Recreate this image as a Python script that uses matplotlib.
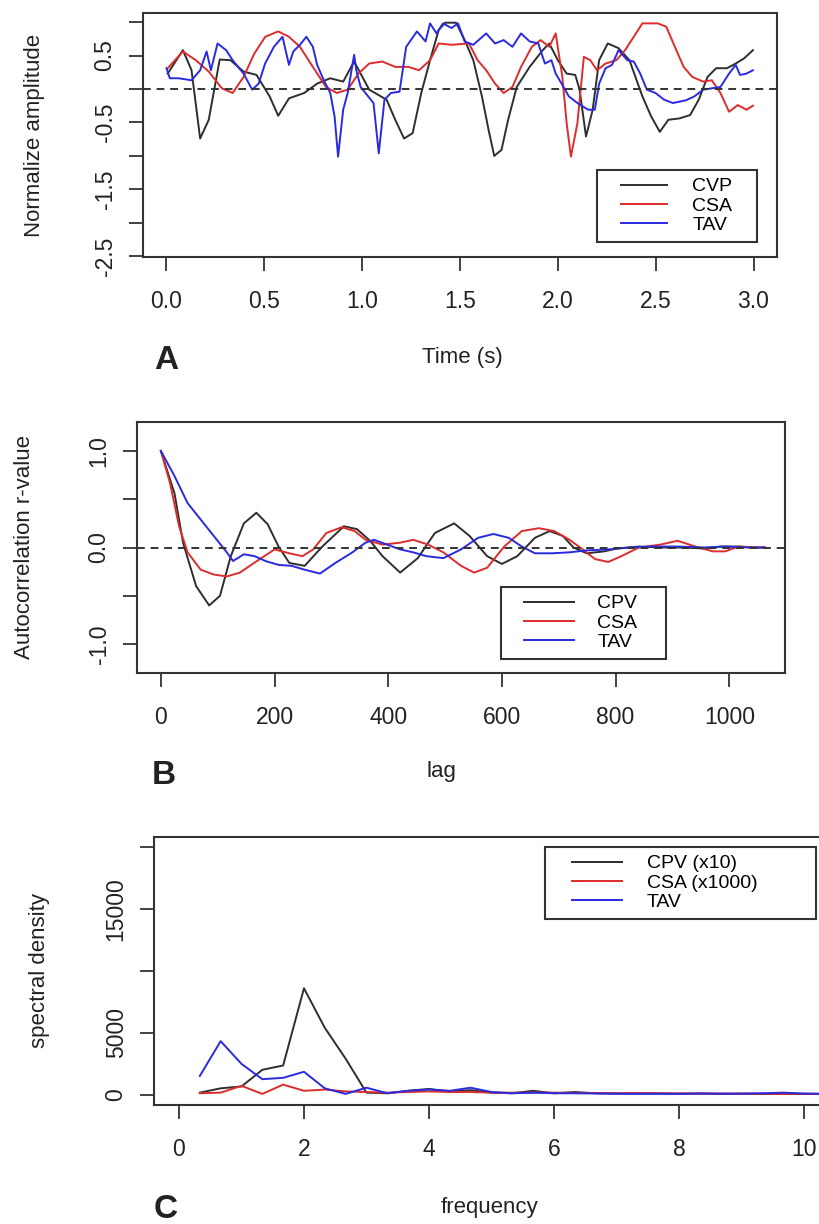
import numpy as np
import matplotlib.pyplot as plt
from matplotlib.lines import Line2D
from matplotlib.legend_handler import HandlerLine2D

plt.rcParams['font.family'] = ['Liberation Sans', 'DejaVu Sans']

# ---- panel A: normalized amplitude vs time ----
cvp_t = [0.006, 0.084, 0.128, 0.172, 0.216, 0.272, 0.327, 0.394, 0.460, 0.527, 0.571, 0.626, 0.704, 0.770,
         0.837, 0.903, 0.959, 1.036, 1.125, 1.169, 1.214, 1.258, 1.302, 1.347, 1.391, 1.424, 1.480, 1.524,
         1.568, 1.612, 1.646, 1.675, 1.712, 1.746, 1.790, 1.856, 1.923, 1.956, 2.000, 2.045, 2.089, 2.111,
         2.144, 2.178, 2.211, 2.255, 2.310, 2.366, 2.432, 2.477, 2.521, 2.565, 2.621, 2.676, 2.720, 2.765,
         2.809, 2.864, 2.909, 2.953, 2.997]
cvp_v = [0.23, 0.58, 0.28, -0.74, -0.46, 0.44, 0.43, 0.26, 0.21, -0.11, -0.40, -0.14, -0.06, 0.08,
         0.16, 0.11, 0.41, -0.01, -0.16, -0.46, -0.74, -0.66, -0.06, 0.43, 0.88, 0.99, 0.99, 0.73,
         0.43, -0.11, -0.61, -1.00, -0.91, -0.46, 0.03, 0.33, 0.58, 0.68, 0.43, 0.23, 0.21, -0.01,
         -0.71, -0.31, 0.43, 0.68, 0.61, 0.43, -0.11, -0.41, -0.64, -0.46, -0.44, -0.39, -0.16, 0.18,
         0.31, 0.31, 0.38, 0.46, 0.58]

csa_t = [0.006, 0.084, 0.150, 0.216, 0.283, 0.338, 0.394, 0.449, 0.505, 0.571, 0.626, 0.682, 0.748, 0.815,
         0.870, 0.926, 0.981, 1.036, 1.103, 1.169, 1.236, 1.291, 1.347, 1.391, 1.457, 1.546, 1.590, 1.634,
         1.679, 1.723, 1.768, 1.812, 1.867, 1.912, 1.956, 1.989, 2.023, 2.045, 2.067, 2.100, 2.133, 2.166,
         2.200, 2.244, 2.299, 2.344, 2.388, 2.432, 2.510, 2.554, 2.598, 2.643, 2.687, 2.743, 2.787, 2.831,
         2.875, 2.920, 2.964, 2.997]
csa_v = [0.31, 0.56, 0.43, 0.26, 0.01, -0.06, 0.18, 0.53, 0.78, 0.86, 0.78, 0.63, 0.33, 0.03,
         -0.06, -0.01, 0.23, 0.38, 0.41, 0.33, 0.33, 0.28, 0.43, 0.68, 0.66, 0.68, 0.43, 0.28,
         0.08, -0.06, 0.03, 0.33, 0.63, 0.73, 0.63, 0.83, 0.18, -0.51, -1.01, -0.51, 0.48, 0.43,
         0.28, 0.38, 0.43, 0.58, 0.78, 0.98, 0.98, 0.93, 0.63, 0.33, 0.18, 0.11, 0.13, -0.06,
         -0.34, -0.24, -0.31, -0.25]

tav_t = [0.000, 0.017, 0.062, 0.128, 0.172, 0.205, 0.227, 0.261, 0.305, 0.338, 0.394, 0.438, 0.471, 0.504,
         0.549, 0.593, 0.626, 0.648, 0.682, 0.715, 0.748, 0.770, 0.804, 0.837, 0.859, 0.877, 0.903, 0.926,
         0.959, 0.970, 0.992, 1.025, 1.058, 1.085, 1.114, 1.147, 1.191, 1.225, 1.280, 1.324, 1.347, 1.380,
         1.413, 1.457, 1.490, 1.524, 1.568, 1.634, 1.679, 1.723, 1.768, 1.812, 1.856, 1.900, 1.934, 1.967,
         1.989, 2.023, 2.056, 2.100, 2.155, 2.189, 2.211, 2.244, 2.277, 2.310, 2.355, 2.388, 2.421, 2.455,
         2.499, 2.543, 2.588, 2.654, 2.698, 2.743, 2.787, 2.831, 2.875, 2.909, 2.931, 2.964, 2.997]
tav_v = [0.31, 0.16, 0.16, 0.13, 0.28, 0.56, 0.28, 0.68, 0.58, 0.43, 0.23, -0.01, 0.08, 0.38,
         0.63, 0.78, 0.36, 0.56, 0.66, 0.78, 0.63, 0.36, 0.13, -0.06, -0.41, -1.01, -0.31, -0.06,
         0.51, 0.28, 0.03, -0.09, -0.21, -0.96, -0.16, -0.06, -0.04, 0.63, 0.86, 0.71, 0.98, 0.83,
         0.98, 0.91, 0.98, 0.71, 0.66, 0.83, 0.68, 0.73, 0.63, 0.83, 0.71, 0.68, 0.38, 0.43,
         0.23, 0.06, -0.11, -0.21, -0.31, -0.31, 0.08, 0.31, 0.36, 0.58, 0.43, 0.41, 0.23, -0.01,
         -0.06, -0.16, -0.21, -0.17, -0.11, -0.01, 0.01, 0.03, 0.23, 0.36, 0.21, 0.23, 0.28]

# ---- panel B: autocorrelation ----
cpv_lag = [0, 24, 39, 62, 85, 104, 123, 146, 168, 188, 207, 226, 253, 284, 322, 345, 368, 390, 421, 452,
           482, 516, 543, 574, 600, 627, 658, 684, 707, 726, 749, 780, 803, 841, 879, 917, 955, 986, 1016,
           1047, 1062]
cpv_r = [1.0, 0.56, 0.05, -0.40, -0.60, -0.50, -0.09, 0.25, 0.36, 0.24, 0.01, -0.16, -0.19, 0.01, 0.22,
         0.19, 0.07, -0.09, -0.26, -0.11, 0.15, 0.25, 0.12, -0.09, -0.17, -0.09, 0.10, 0.17, 0.12, 0.0,
         -0.06, -0.04, -0.01, 0.01, 0.0, 0.0, -0.01, 0.01, 0.01, 0.0, 0.0]
csa_lag = [0, 16, 32, 47, 70, 93, 116, 139, 169, 200, 226, 249, 268, 291, 318, 341, 360, 390, 421, 444,
           470, 497, 528, 551, 574, 604, 635, 665, 692, 719, 742, 764, 787, 810, 841, 879, 909, 940, 971,
           993, 1016, 1047, 1062]
csa_r = [1.0, 0.67, 0.22, -0.05, -0.23, -0.28, -0.30, -0.26, -0.14, -0.02, -0.06, -0.09, -0.02, 0.15,
         0.21, 0.17, 0.08, 0.03, 0.05, 0.08, 0.03, -0.05, -0.19, -0.26, -0.21, 0.01, 0.17, 0.20, 0.17,
         0.08, -0.02, -0.12, -0.15, -0.09, 0.0, 0.03, 0.07, 0.01, -0.04, -0.04, 0.01, 0.0, 0.0]
tav_lag = [0, 24, 47, 70, 93, 116, 127, 146, 165, 184, 207, 230, 253, 280, 307, 337, 360, 375, 398, 421,
           444, 467, 497, 528, 558, 585, 612, 635, 658, 688, 719, 749, 787, 825, 864, 909, 955, 993, 1031,
           1062]
tav_r = [1.0, 0.74, 0.46, 0.29, 0.12, -0.05, -0.14, -0.07, -0.09, -0.14, -0.18, -0.19, -0.23, -0.27,
         -0.16, -0.05, 0.05, 0.08, 0.03, -0.02, -0.05, -0.09, -0.11, -0.02, 0.10, 0.14, 0.10, 0.01, -0.06,
         -0.06, -0.05, -0.03, -0.02, 0.0, 0.01, 0.01, 0.0, 0.01, 0.0, 0.0]

# ---- panel C: spectral density ----
freq = np.arange(1, 32) / 3.0
cpv_sd = [150, 500, 650, 2000, 2350, 8600, 5400, 2900, 150, 100, 300, 450, 250, 350, 150, 100, 300, 100,
          200, 100, 80, 100, 80, 60, 80, 50, 60, 40, 50, 40, 30]
csa_sd = [100, 150, 700, 50, 800, 300, 400, 250, 200, 150, 200, 250, 200, 200, 150, 150, 150, 150, 120,
          120, 100, 100, 100, 90, 80, 80, 70, 70, 60, 60, 50]
tav_sd = [1500, 4320, 2480, 1240, 1350, 1840, 500, 50, 550, 100, 300, 400, 300, 550, 200, 100, 150, 100,
          100, 80, 60, 50, 60, 50, 80, 60, 70, 100, 150, 80, 60]

BLK = '#2e2e2e'
RED = '#dd2c2c'
BLU = '#2a2ae0'
W, H = 820, 1224

fig = plt.figure(figsize=(8.2, 12.24), dpi=100)


def px_axes(l, t, r, b):
    return fig.add_axes([l / W, 1 - b / H, (r - l) / W, (b - t) / H])


def r_style(ax):
    for s in ax.spines.values():
        s.set_linewidth(1.5)
        s.set_color('#333333')
    ax.tick_params(direction='out', length=10, width=1.3, color='#333333',
                   labelsize=16.5, labelcolor='#222222')
    ax.tick_params(axis='x', pad=14)
    ax.tick_params(axis='y', pad=9, labelrotation=90)
    for lab in ax.get_yticklabels():
        lab.set_va('center')


def r_legend(ax, labels, l, t, r, handlelen, xpad, textpad):
    handles = [Line2D([], [], color=c, lw=1.4) for c in (BLK, RED, BLU)]
    leg = ax.legend(handles, labels, loc='upper left',
                    bbox_to_anchor=(l / W, 1 - t / H - 0.01, (r - l) / W, 0.01),
                    bbox_transform=fig.transFigure, mode='expand', borderaxespad=0,
                    fontsize=14, fancybox=False, framealpha=1, edgecolor='#333333',
                    borderpad=0.4, labelspacing=0.08, handlelength=handlelen,
                    handletextpad=textpad,
                    handler_map={Line2D: HandlerLine2D(xpad=xpad)})
    leg.get_frame().set_linewidth(1.5)
    return leg


# Panel A
axA = px_axes(143, 13, 777, 257)
axA.plot(cvp_t, cvp_v, color=BLK, lw=1.4)
axA.plot(csa_t, csa_v, color=RED, lw=1.4)
axA.plot(tav_t, tav_v, color=BLU, lw=1.4)
axA.axhline(0, color='#333333', lw=1.4, ls=(0, (4, 3)))
axA.set_xlim(-0.12, 3.12)
axA.set_ylim(-2.51, 1.135)
axA.set_xticks(np.arange(0, 3.01, 0.5))
axA.set_xticklabels(['0.0', '0.5', '1.0', '1.5', '2.0', '2.5', '3.0'])
axA.set_yticks([-2.5, -2, -1.5, -1, -0.5, 0, 0.5, 1.0])
axA.set_yticklabels(['-2.5', '', '-1.5', '', '-0.5', '', '0.5', ''])
r_style(axA)
r_legend(axA, ['CVP', 'CSA', 'TAV'], 597, 170, 757, 3.2, 0.82, 1.3)

# Panel B
axB = px_axes(137, 422, 785, 673)
axB.plot(cpv_lag, cpv_r, color=BLK, lw=1.4)
axB.plot(csa_lag, csa_r, color=RED, lw=1.4)
axB.plot(tav_lag, tav_r, color=BLU, lw=1.4)
axB.axhline(0, color='#333333', lw=1.4, ls=(0, (4, 3)))
axB.set_xlim(-42, 1098)
axB.set_ylim(-1.3, 1.3)
axB.set_xticks([0, 200, 400, 600, 800, 1000])
axB.set_yticks([-1.0, -0.5, 0.0, 0.5, 1.0])
axB.set_yticklabels(['-1.0', '', '0.0', '', '1.0'])
r_style(axB)
r_legend(axB, ['CPV', 'CSA', 'TAV'], 501, 587, 666, 3.35, 0.77, 1.2)

# Panel C
axC = px_axes(154, 837, 832, 1105)
axC.plot(freq, cpv_sd, color=BLK, lw=1.4)
axC.plot(freq, csa_sd, color=RED, lw=1.4)
axC.plot(freq, tav_sd, color=BLU, lw=1.4)
axC.set_xlim(-0.4, 10.45)
axC.set_ylim(-850, 20850)
axC.set_xticks([0, 2, 4, 6, 8, 10])
axC.set_yticks([0, 5000, 10000, 15000, 20000])
axC.set_yticklabels(['0', '5000', '', '15000', ''])
r_style(axC)
r_legend(axC, ['CPV (x10)', 'CSA (x1000)', 'TAV'], 545, 847, 816, 3.55, 0.98, 1.3)

# axis titles and panel letters
def ftext(x, y, s, **kw):
    fig.text(x / W, 1 - y / H, s, ha='center', va='center', color='#222222', **kw)

ftext(35, 135, 'Normalize amplitude', rotation=90, fontsize=16)
ftext(25, 547, 'Autocorrelation r-value', rotation=90, fontsize=16)
ftext(40, 971, 'spectral density', rotation=90, fontsize=16)
ftext(462, 357, 'Time (s)', fontsize=16)
ftext(441, 771, 'lag', fontsize=16)
ftext(490, 1207, 'frequency', fontsize=16)
ftext(166, 360, 'A', fontsize=24, fontweight='bold')
ftext(164, 775, 'B', fontsize=24, fontweight='bold')
ftext(166, 1210, 'C', fontsize=24, fontweight='bold')

fig.savefig('out.png', dpi=100)
